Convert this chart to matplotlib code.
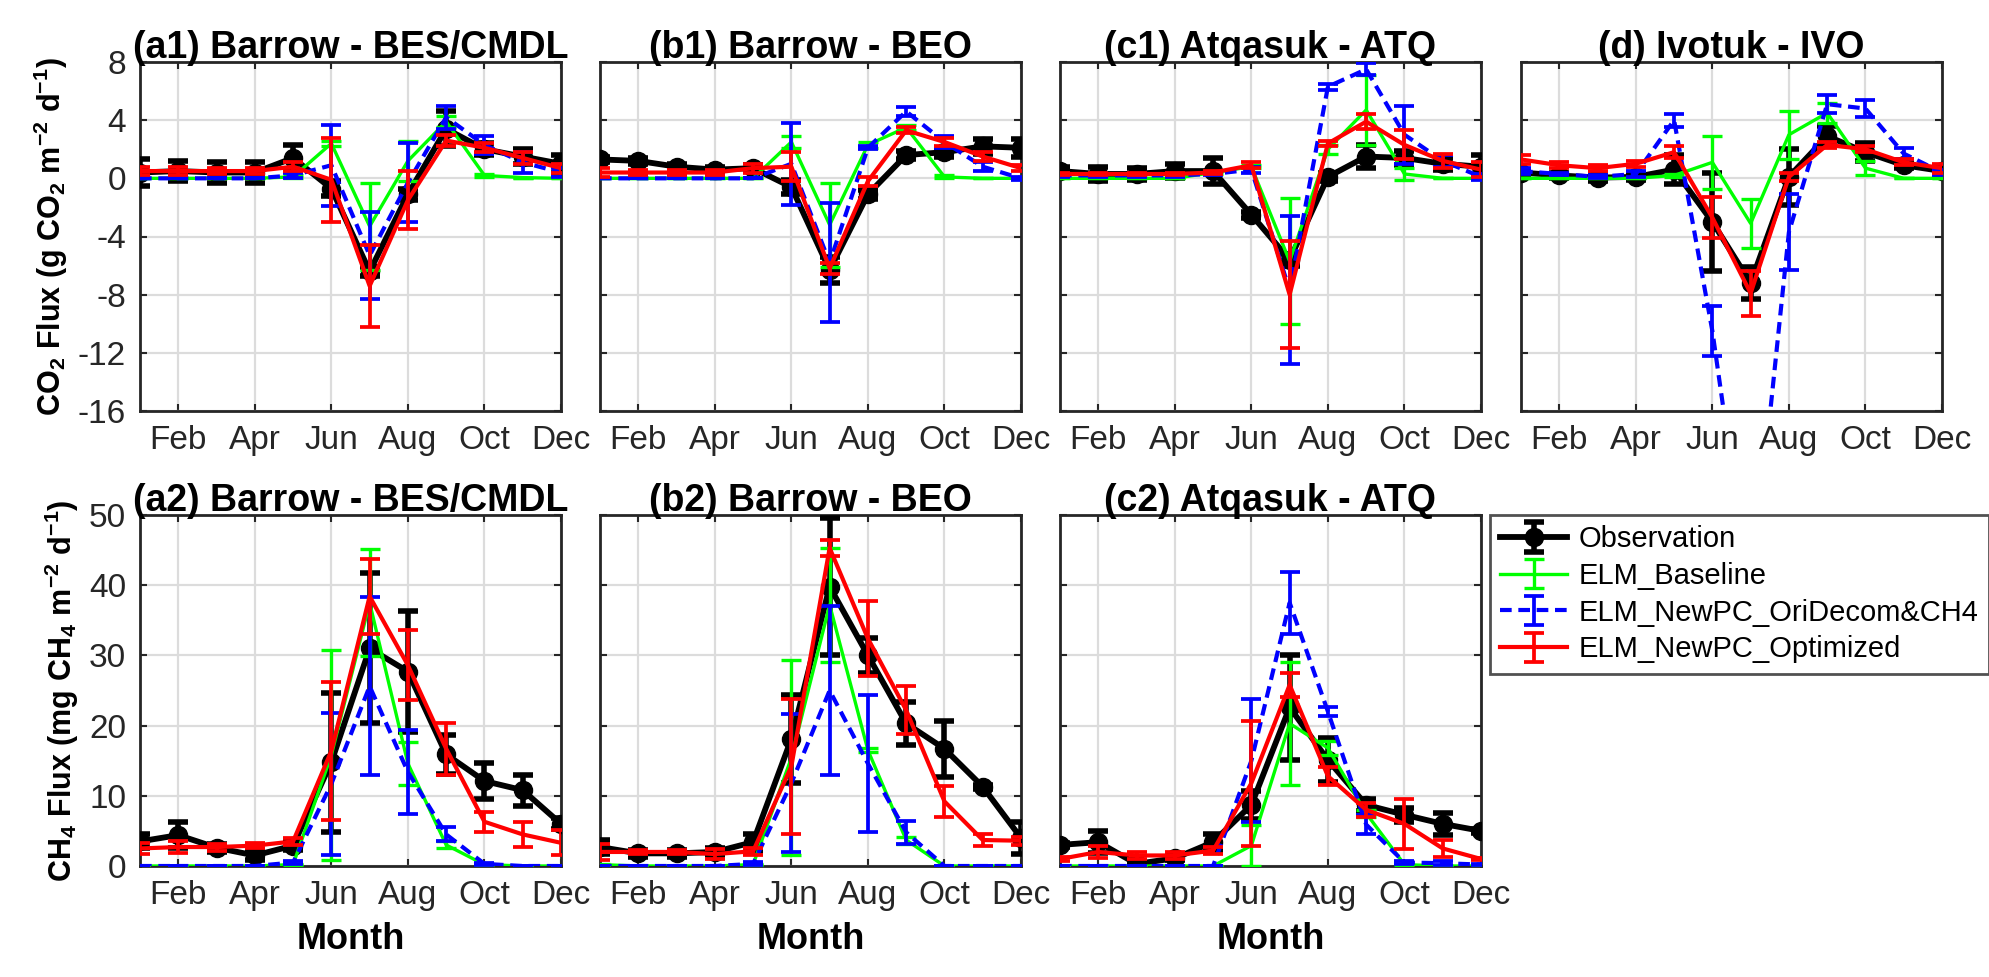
import matplotlib
matplotlib.use("Agg")
import matplotlib.pyplot as plt
import numpy as np

plt.rcParams['font.family'] = ['Liberation Sans', 'DejaVu Sans']
plt.rcParams['mathtext.fontset'] = 'custom'
plt.rcParams['mathtext.rm'] = 'Liberation Sans'
plt.rcParams['mathtext.bf'] = 'Liberation Sans:bold'
plt.rcParams['mathtext.default'] = 'bf'
plt.rcParams['axes.unicode_minus'] = False

months = np.arange(1, 13)
month_ticks = [2, 4, 6, 8, 10, 12]
month_labels = ['Feb', 'Apr', 'Jun', 'Aug', 'Oct', 'Dec']
series_names = ['Observation', 'ELM_Baseline', 'ELM_NewPC_OriDecom&CH4', 'ELM_NewPC_Optimized']

# ---- CO2 flux (g CO2 m-2 d-1) ----
a1_obs = [0.4, 0.5, 0.4, 0.4, 1.4, -0.7, -6.4, -1.1, 3.4, 2.0, 1.5, 1.0]
a1_obs_err = [0.9, 0.7, 0.7, 0.7, 0.9, 0.5, 0.3, 0.4, 1.2, 0.4, 0.5, 0.6]
a1_base = [0, 0, 0, 0, 0.1, 2.4, -3.3, 1.2, 3.9, 0.2, 0.05, 0]
a1_base_err = [0, 0, 0, 0, 0.1, 0.2, 3.0, 1.4, 0.4, 0.1, 0, 0]
a1_ori = [0, 0, 0, 0, 0.2, 0.9, -5.3, -0.3, 4.2, 2.3, 1.1, 0.4]
a1_ori_err = [0, 0, 0, 0, 0.2, 2.8, 3.0, 2.7, 0.8, 0.6, 0.7, 0.3]
a1_opt = [0.5, 0.5, 0.5, 0.5, 0.8, -0.1, -7.4, -1.5, 2.6, 2.1, 1.4, 0.7]
a1_opt_err = [0.3, 0.3, 0.2, 0.2, 0.3, 2.9, 2.8, 2.0, 0.4, 0.3, 0.4, 0.3]

b1_obs = [1.3, 1.2, 0.8, 0.6, 0.7, -0.6, -6.3, -1.1, 1.6, 1.8, 2.2, 2.1]
b1_obs_err = [0.2, 0.2, 0.2, 0.2, 0.2, 0.5, 0.9, 0.3, 0.3, 0.3, 0.5, 0.6]
b1_base = [0, 0, 0, 0, 0, 2.5, -3.2, 2.3, 3.5, 0.1, 0, 0]
b1_base_err = [0, 0, 0, 0, 0, 0.4, 2.9, 0.2, 0.2, 0.1, 0, 0]
b1_ori = [0, 0, 0, 0, 0, 1.0, -5.8, 2.1, 4.6, 2.5, 0.8, 0.0]
b1_ori_err = [0, 0, 0, 0, 0, 2.8, 4.1, 0.1, 0.3, 0.4, 0.3, 0.1]
b1_opt = [0.4, 0.4, 0.4, 0.4, 0.7, 0.8, -6.2, -0.2, 3.3, 2.5, 1.5, 0.7]
b1_opt_err = [0.3, 0.2, 0.2, 0.2, 0.3, 1.0, 0.4, 0.3, 0.2, 0.3, 0.3, 0.2]

c1_obs = [0.5, 0.3, 0.3, 0.5, 0.5, -2.5, -5.6, 0.1, 1.5, 1.4, 1.0, 0.8]
c1_obs_err = [0.3, 0.5, 0.4, 0.5, 0.9, 0.2, 0.4, 0.3, 0.8, 0.5, 0.4, 0.8]
c1_base = [0, 0, 0, 0, 0.4, 0.8, -5.7, 2.0, 4.7, 0.3, 0, 0]
c1_base_err = [0, 0, 0, 0, 0.1, 0.1, 4.35, 0.3, 2.4, 0.4, 0, 0]
c1_ori = [0.2, 0.2, 0.2, 0.2, 0.3, 0.6, -7.7, 6.3, 7.5, 3.0, 1.2, 0.1]
c1_ori_err = [0.1, 0.1, 0.1, 0.1, 0.1, 0.2, 5.1, 0.2, 0.4, 2.0, 0.4, 0.2]
c1_opt = [0.3, 0.3, 0.3, 0.3, 0.4, 0.9, -8.0, 2.4, 3.9, 2.3, 1.2, 0.6]
c1_opt_err = [0.1, 0.1, 0.1, 0.1, 0.1, 0.2, 3.7, 0.2, 0.5, 1.0, 0.5, 0.5]

d_obs = [0.4, 0.2, 0.05, 0.1, 0.6, -3.0, -7.2, 0.1, 2.9, 1.8, 0.9, 0.5]
d_obs_err = [0.2, 0.2, 0.2, 0.2, 1.0, 3.4, 1.1, 1.95, 0.7, 0.6, 0.2, 0.2]
d_base = [0, 0, 0, 0, 0.2, 1.1, -3.1, 3.0, 4.5, 0.7, 0, 0]
d_base_err = [0, 0, 0, 0, 0.1, 1.8, 1.7, 1.65, 0.7, 0.5, 0, 0]
d_ori = [0.5, 0.3, 0.1, 0.3, 4.0, -10.5, -29.0, -3.7, 5.1, 4.8, 1.7, 0.4]
d_ori_err = [0.2, 0.1, 0.1, 0.2, 0.45, 1.75, 2.0, 2.6, 0.6, 0.6, 0.4, 0.2]
d_opt = [1.3, 0.9, 0.7, 1.0, 1.8, -2.7, -7.9, 0.1, 2.3, 2.0, 1.1, 0.7]
d_opt_err = [0.3, 0.2, 0.2, 0.2, 0.4, 1.4, 1.55, 0.3, 0.2, 0.2, 0.2, 0.3]

# ---- CH4 flux (mg CH4 m-2 d-1) ----
a2_obs = [3.5, 4.4, 2.6, 1.5, 2.9, 14.8, 31.0, 27.7, 15.9, 12.1, 10.8, 6.0]
a2_obs_err = [1.0, 1.9, 0.6, 0.6, 0.6, 9.9, 10.7, 8.6, 2.8, 2.6, 2.2, 0.8]
a2_base = [0, 0, 0, 0, 0.2, 15.8, 37.5, 14.6, 3.0, 0.2, 0, 0]
a2_base_err = [0, 0, 0, 0, 0.1, 15.0, 7.6, 3.0, 0.5, 0.1, 0, 0]
a2_ori = [0, 0, 0, 0, 0.5, 11.7, 25.6, 13.4, 4.5, 0.3, 0, 0]
a2_ori_err = [0, 0, 0, 0, 0.2, 10.1, 12.7, 6.0, 1.0, 0.1, 0, 0]
a2_opt = [2.5, 2.7, 2.7, 2.9, 3.5, 16.4, 38.4, 28.6, 16.7, 6.3, 4.5, 3.3]
a2_opt_err = [0.8, 0.8, 0.5, 0.4, 0.5, 9.8, 5.4, 5.0, 3.7, 1.4, 1.8, 1.8]

b2_obs = [2.7, 1.8, 1.8, 2.0, 3.4, 18.1, 39.8, 30.0, 20.3, 16.7, 11.3, 4.0]
b2_obs_err = [1.0, 0.5, 0.5, 0.5, 1.2, 6.3, 9.8, 2.5, 3.0, 4.0, 0.3, 2.3]
b2_base = [0.2, 0, 0, 0, 0.2, 15.4, 37.2, 16.5, 3.7, 0, 0, 0]
b2_base_err = [0.1, 0, 0, 0, 0.1, 13.9, 8.1, 0.3, 0.5, 0, 0, 0]
b2_ori = [0, 0, 0, 0, 0.3, 11.8, 25.0, 14.6, 4.8, 0, 0, 0]
b2_ori_err = [0, 0, 0, 0, 0.2, 9.8, 12.0, 9.7, 1.6, 0, 0, 0]
b2_opt = [2.0, 2.0, 2.0, 1.7, 2.1, 14.2, 45.3, 32.4, 22.2, 9.2, 3.7, 3.6]
b2_opt_err = [1.2, 0.3, 0.3, 0.7, 0.5, 9.6, 1.2, 5.4, 3.4, 2.2, 0.8, 0.6]

c2_obs = [3.0, 3.4, 0.3, 1.1, 3.4, 8.7, 22.6, 15.1, 8.7, 7.3, 6.0, 5.0]
c2_obs_err = [0.3, 1.6, 0.3, 0.3, 1.2, 2.0, 7.5, 3.2, 0.8, 1.0, 1.6, 0.3]
c2_base = [0, 0, 0, 0, 0, 2.9, 20.3, 16.8, 7.5, 0.2, 0, 0]
c2_base_err = [0, 0, 0, 0, 0, 2.9, 8.7, 1.0, 0.5, 0.1, 0, 0]
c2_ori = [0, 0, 0, 0, 0, 15.0, 37.5, 22.0, 5.9, 0.5, 0.4, 0.2]
c2_ori_err = [0, 0, 0, 0, 0, 8.8, 4.4, 0.7, 1.4, 0.2, 0.3, 0.1]
c2_opt = [1.0, 2.0, 1.5, 1.5, 2.2, 11.8, 25.8, 12.8, 8.0, 6.0, 2.5, 1.0]
c2_opt_err = [0.3, 0.8, 0.5, 0.5, 0.5, 8.9, 1.7, 1.3, 1.0, 3.6, 1.2, 0.2]

panels = [
    ('(a1) Barrow - BES/CMDL', a1_obs, a1_obs_err, a1_base, a1_base_err, a1_ori, a1_ori_err, a1_opt, a1_opt_err),
    ('(b1) Barrow - BEO', b1_obs, b1_obs_err, b1_base, b1_base_err, b1_ori, b1_ori_err, b1_opt, b1_opt_err),
    ('(c1) Atqasuk - ATQ', c1_obs, c1_obs_err, c1_base, c1_base_err, c1_ori, c1_ori_err, c1_opt, c1_opt_err),
    ('(d) Ivotuk - IVO', d_obs, d_obs_err, d_base, d_base_err, d_ori, d_ori_err, d_opt, d_opt_err),
    ('(a2) Barrow - BES/CMDL', a2_obs, a2_obs_err, a2_base, a2_base_err, a2_ori, a2_ori_err, a2_opt, a2_opt_err),
    ('(b2) Barrow - BEO', b2_obs, b2_obs_err, b2_base, b2_base_err, b2_ori, b2_ori_err, b2_opt, b2_opt_err),
    ('(c2) Atqasuk - ATQ', c2_obs, c2_obs_err, c2_base, c2_base_err, c2_ori, c2_ori_err, c2_opt, c2_opt_err),
]

W, H = 1989, 977
fig = plt.figure(figsize=(W / 100, H / 100), dpi=100)

lefts = [140, 600, 1060, 1521]
aw = 421
rows = [(62, 411), (515, 866)]

axes = []
for i, p in enumerate(panels):
    row = 0 if i < 4 else 1
    col = i if i < 4 else i - 4
    top, bot = rows[row]
    ax = fig.add_axes([lefts[col] / W, 1 - bot / H, aw / W, (bot - top) / H])
    axes.append(ax)
    title, obs, obs_e, base, base_e, ori, ori_e, opt, opt_e = p

    h1 = ax.errorbar(months, obs, yerr=obs_e, color='k', lw=4.2, marker='o', ms=13,
                     elinewidth=4, capsize=7, capthick=4, zorder=3)
    h2 = ax.errorbar(months, base, yerr=base_e, color='#00ff00', lw=2.4,
                     elinewidth=2.4, capsize=7, capthick=2.4, zorder=4)
    h3 = ax.errorbar(months, ori, yerr=ori_e, color='#0000ff', lw=3, ls=(0, (2.8, 1.6)),
                     elinewidth=2.7, capsize=7, capthick=2.7, zorder=5)
    h4 = ax.errorbar(months, opt, yerr=opt_e, color='#ff0000', lw=3,
                     elinewidth=2.7, capsize=7, capthick=2.7, zorder=6)
    handles = [h1, h2, h3, h4]

    ax.set_xlim(1, 12)
    ax.set_xticks(month_ticks)
    ax.set_xticklabels(month_labels)
    if row == 0:
        ax.set_ylim(-16, 8)
        ax.set_yticks(np.arange(-16, 9, 4))
    else:
        ax.set_ylim(0, 50)
        ax.set_yticks(np.arange(0, 51, 10))
    if col != 0:
        ax.set_yticklabels([])
    ax.grid(True, color='#dcdcdc', lw=1.6)
    ax.set_axisbelow(True)
    ax.tick_params(direction='in', top=True, right=True, length=5, width=1.5,
                   labelsize=24, colors='#262626', pad=10)
    for s in ax.spines.values():
        s.set_linewidth(2)
        s.set_color('#262626')
    ax.set_title(title, fontsize=27, fontweight='bold', pad=3)
    if row == 1:
        ax.set_xlabel('Month', fontsize=26, fontweight='bold', labelpad=8)

axes[0].set_ylabel(r'CO$_2$ Flux (g CO$_2$ m$^{-2}$ d$^{-1}$)', fontsize=22,
                   fontweight='bold', labelpad=6)
axes[4].set_ylabel(r'CH$_4$ Flux (mg CH$_4$ m$^{-2}$ d$^{-1}$)', fontsize=22,
                   fontweight='bold', labelpad=6)

leg = fig.legend(handles, series_names, loc='upper left', bbox_to_anchor=(1490 / W, 1 - 515 / H),
                 fontsize=21, frameon=True, fancybox=False, edgecolor='#262626',
                 handlelength=2.3, borderaxespad=0, labelspacing=0.3, borderpad=0.35,
                 handletextpad=0.4)
leg.get_frame().set_linewidth(2)

fig.savefig('out.png', dpi=100)
